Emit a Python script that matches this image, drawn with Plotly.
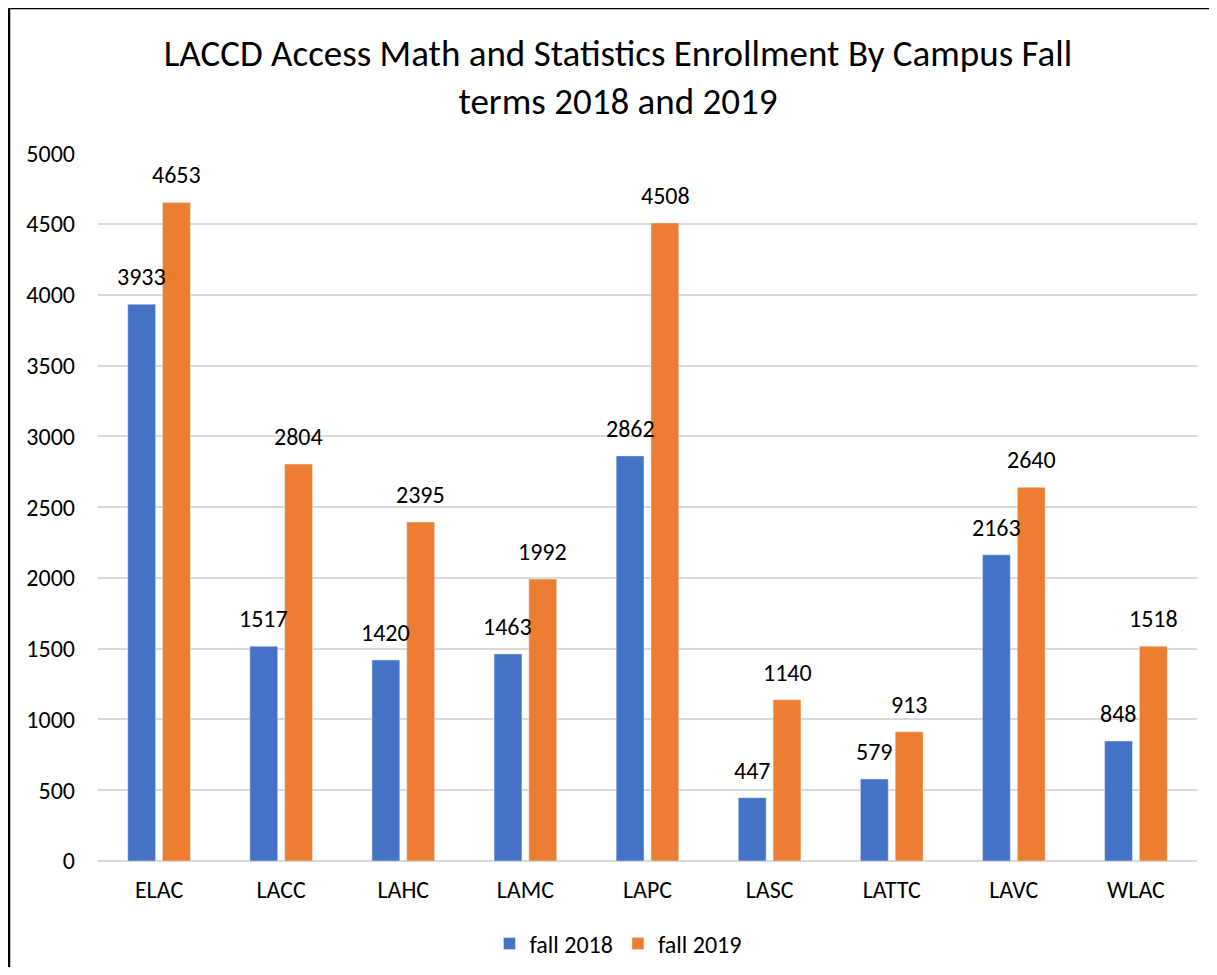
import plotly.graph_objects as go

campuses = ["ELAC", "LACC", "LAHC", "LAMC", "LAPC", "LASC", "LATTC", "LAVC", "WLAC"]
fall_2018 = [3933, 1517, 1420, 1463, 2862, 447, 579, 2163, 848]
fall_2019 = [4653, 2804, 2395, 1992, 4508, 1140, 913, 2640, 1518]
y_ticks = [0, 500, 1000, 1500, 2000, 2500, 3000, 3500, 4000, 4500, 5000]

FONT = "Carlito, Calibri, sans-serif"
BLUE = "#4472C4"
ORANGE = "#ED7D31"

fig = go.Figure()
fig.add_trace(go.Bar(x=campuses, y=fall_2018, name="fall 2018", marker_color=BLUE))
fig.add_trace(go.Bar(x=campuses, y=fall_2019, name="fall 2019", marker_color=ORANGE))

# page body has an 8px offset; compensate (and avoid scrollbars)
OFF = 8
W, H = 1217 - 2 * OFF, 975 - 2 * OFF
L, T = 98 - OFF, 153 - OFF
R = W - (1197 - OFF)
B = H - (861 - OFF)
pw, ph = W - L - R, H - T - B

def px(x):
    return (x - OFF - L) / pw

def py(y):
    return (H - B - (y - OFF)) / ph

annotations = []
for series, shift in ((fall_2018, -17.5), (fall_2019, 17.5)):
    for cat, val in zip(campuses, series):
        annotations.append(dict(x=cat, y=val, xref="x", yref="y", text=str(val),
                                showarrow=False, xshift=shift, yshift=11,
                                yanchor="bottom", xanchor="center",
                                font=dict(family=FONT, size=24, color="#000000")))

border = dict(color="#000000", width=2.5)
fig.update_layout(
    width=W, height=H,
    margin=dict(l=L, r=R, t=T, b=B),
    paper_bgcolor="white", plot_bgcolor="white",
    font=dict(family=FONT, size=24, color="#000000"),
    title=dict(text="LACCD Access Math and Statistics Enrollment By Campus Fall<br>terms 2018 and 2019",
               x=px(618), xanchor="center", xref="paper", y=1 - (66 - OFF) / H, yanchor="middle",
               font=dict(family=FONT, size=37, color="#000000")),
    barmode="group", bargap=0.43, bargroupgap=0.2,
    xaxis=dict(showgrid=False, showline=False, ticks="", tickfont=dict(size=24),
               ticklabelstandoff=12),
    yaxis=dict(range=[0, 5002], tickvals=y_ticks, showgrid=True, gridcolor="#D9D9D9",
               gridwidth=1.5, zeroline=True, zerolinecolor="#D9D9D9", zerolinewidth=1.5,
               showline=False, ticks="", ticklabelstandoff=22, tickfont=dict(size=24)),
    legend=dict(orientation="h", x=px(618), xanchor="center",
                yref="container", y=1 - (944 - OFF) / H, yanchor="middle",
                font=dict(size=24), itemwidth=30, traceorder="normal"),
    showlegend=True,
    annotations=annotations,
    shapes=[
        dict(type="line", xref="paper", yref="paper", x0=px(9), x1=px(1260), y0=py(8), y1=py(8), line=border),
        dict(type="line", xref="paper", yref="paper", x0=px(9), x1=px(9), y0=py(8), y1=py(1020), line=border),
    ],
)

fig.write_html("out.html")
